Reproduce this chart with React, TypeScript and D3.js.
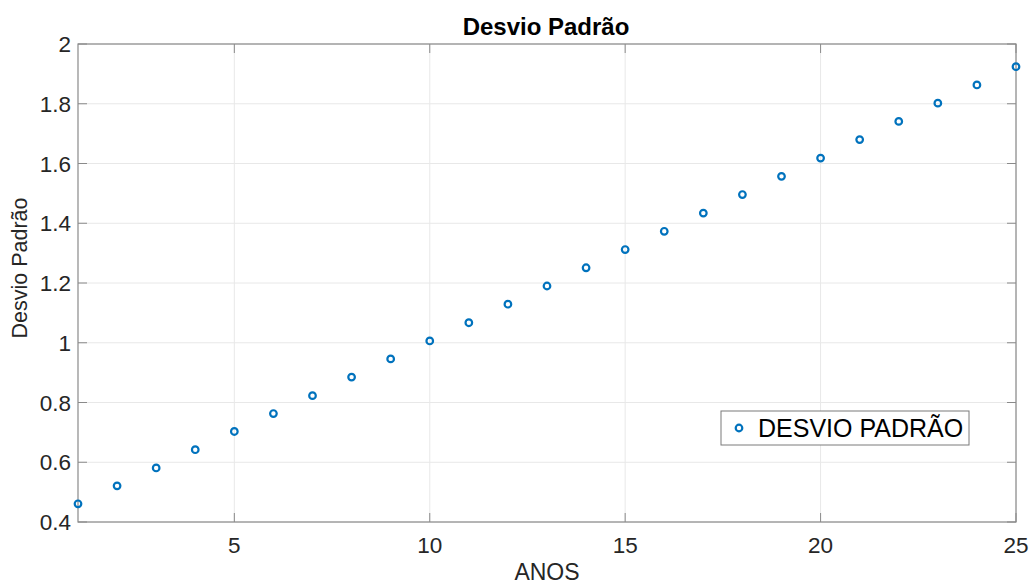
import React from "react";
import * as d3 from "d3";

const anos = [1,2,3,4,5,6,7,8,9,10,11,12,13,14,15,16,17,18,19,20,21,22,23,24,25];
const desvio = [0.461,0.521,0.581,0.642,0.703,0.763,0.823,0.885,0.946,1.006,1.067,1.129,1.190,1.251,1.312,1.373,1.434,1.496,1.557,1.618,1.680,1.741,1.802,1.863,1.924];
const xTicks = [5,10,15,20,25];
const yTicks = [0.4,0.6,0.8,1,1.2,1.4,1.6,1.8,2];
const title = "Desvio Padrão";
const xLabel = "ANOS";
const yLabel = "Desvio Padrão";
const legendLabel = "DESVIO PADRÃO";

export default function App() {
  const W = 1031, H = 585;
  const L = 78, R = 1016, T = 44, B = 522;
  const x = d3.scaleLinear().domain([1, 25]).range([L, R]);
  const y = d3.scaleLinear().domain([0.4, 2]).range([B, T]);
  const font = "'Liberation Sans', Arial, sans-serif";
  const txt = "#262626";
  const axisCol = "#8a8a8a";
  const blue = "#0072BD";
  return (
    <svg width={W} height={H} style={{ position: "absolute", left: 0, top: 0, background: "#fff" }} fontFamily={font}>
      <rect x={0} y={0} width={W} height={H} fill="#fff" />
      {xTicks.map((t) => (
        <line key={"gx" + t} x1={x(t)} x2={x(t)} y1={T} y2={B} stroke="#e8e8e8" strokeWidth={1} />
      ))}
      {yTicks.map((t) => (
        <line key={"gy" + t} x1={L} x2={R} y1={y(t)} y2={y(t)} stroke="#e8e8e8" strokeWidth={1} />
      ))}
      {xTicks.map((t) => (
        <g key={"tx" + t}>
          <line x1={x(t)} x2={x(t)} y1={B} y2={B - 9} stroke={axisCol} />
          <line x1={x(t)} x2={x(t)} y1={T} y2={T + 9} stroke={axisCol} />
          <text x={x(t)} y={553} textAnchor="middle" fontSize={22.5} fill={txt}>{t}</text>
        </g>
      ))}
      {yTicks.map((t) => (
        <g key={"ty" + t}>
          <line x1={L} x2={L + 9} y1={y(t)} y2={y(t)} stroke={axisCol} />
          <line x1={R} x2={R - 9} y1={y(t)} y2={y(t)} stroke={axisCol} />
          <text x={71} y={y(t) + 8} textAnchor="end" fontSize={22.5} fill={txt}>{d3.format("~g")(t)}</text>
        </g>
      ))}
      <rect x={L} y={T} width={R - L} height={B - T} fill="none" stroke={axisCol} strokeWidth={1.2} />
      {anos.map((a, i) => (
        <circle key={"p" + a} cx={x(a)} cy={y(desvio[i])} r={3.3} fill="none" stroke={blue} strokeWidth={2.2} />
      ))}
      <text x={546} y={35} textAnchor="middle" fontSize={24} fontWeight="bold" fill="#000">{title}</text>
      <text x={547} y={580} textAnchor="middle" fontSize={23} fill={txt}>{xLabel}</text>
      <text transform={`translate(27,268) rotate(-90)`} textAnchor="middle" fontSize={21.5} fill={txt}>{yLabel}</text>
      <rect x={721} y={411} width={248} height={34} fill="#fff" stroke="#7a7a7a" strokeWidth={1} />
      <circle cx={739} cy={428} r={3.3} fill="none" stroke={blue} strokeWidth={2.2} />
      <text x={758} y={437} fontSize={25} fill="#000">{legendLabel}</text>
    </svg>
  );
}
